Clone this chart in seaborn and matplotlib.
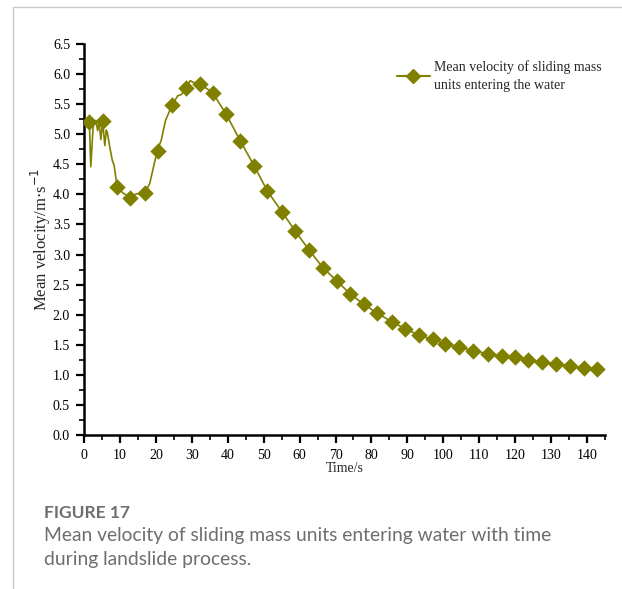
import numpy as np
import pandas as pd
import matplotlib
matplotlib.use("Agg")
import matplotlib.pyplot as plt
from matplotlib.lines import Line2D
from matplotlib.ticker import MultipleLocator
import seaborn as sns

# ---------------------------------------------------------------------------
# DATA
# ---------------------------------------------------------------------------

# dense line trace (early oscillation part), seconds / m.s-1
line_time = [1.5, 1.9, 2.6, 3.3, 3.8, 4.2, 4.7, 5.2, 5.8, 6.2, 6.5, 7.2, 7.9,
             8.4, 9.2, 10.9, 12.9, 14.6, 16.8, 18.3, 20.4, 21.5, 22.7, 24.4,
             26.1, 27.1, 28.3, 29.6, 30.8, 32.0]
line_vel = [5.20, 4.46, 5.18, 5.23, 5.06, 5.20, 4.91, 5.21, 4.81, 5.07, 5.03,
            4.78, 4.56, 4.48, 4.13, 4.02, 3.95, 4.01, 4.01, 4.18, 4.73, 4.90,
            5.23, 5.47, 5.64, 5.66, 5.76, 5.89, 5.85, 5.84]

# marker points (every ~3.9 s)
marker_time = [1.4, 5.4, 9.1, 12.8, 16.9, 20.5, 24.4, 28.3, 32.2, 35.8, 39.6,
               43.5, 47.4, 51.0, 55.2, 58.8, 62.7, 66.5, 70.4, 74.0, 77.9,
               81.5, 85.7, 89.3, 93.2, 97.0, 100.6, 104.5, 108.4, 112.3,
               116.2, 120.0, 123.6, 127.5, 131.4, 135.3, 139.2, 142.8]
marker_vel = [5.20, 5.22, 4.13, 3.94, 4.02, 4.72, 5.48, 5.77, 5.84, 5.69, 5.33,
              4.89, 4.47, 4.06, 3.70, 3.39, 3.07, 2.78, 2.56, 2.35, 2.17,
              2.03, 1.88, 1.77, 1.66, 1.59, 1.52, 1.46, 1.40, 1.35,
              1.32, 1.29, 1.25, 1.21, 1.18, 1.14, 1.12, 1.09]

LEGEND_LABEL = "Mean velocity of sliding mass\nunits entering the water"
CAPTION_LINES = ["Mean velocity of sliding mass units entering water with time",
                 "during landslide process."]
OLIVE = "#808000"
CAPTION_GREY = "#6e6e6e"

# ---------------------------------------------------------------------------
# PLOT
# ---------------------------------------------------------------------------

sns.set_style("ticks")
plt.rcParams["font.family"] = ["Liberation Serif", "DejaVu Serif"]

fig = plt.figure(figsize=(6.22, 5.89), dpi=100)
ax = fig.add_axes([0.135, 0.2615, 0.8377, 0.6638])

# line: dense early trace, then continues through the markers
late = [(t, v) for t, v in zip(marker_time, marker_vel) if t > line_time[-1]]
df_line = pd.DataFrame({
    "time": line_time + [t for t, _ in late],
    "vel": line_vel + [v for _, v in late],
})
df_mark = pd.DataFrame({"time": marker_time, "vel": marker_vel})

sns.lineplot(data=df_line, x="time", y="vel", ax=ax, color=OLIVE,
             linewidth=1.2, sort=False, estimator=None)
sns.scatterplot(data=df_mark, x="time", y="vel", ax=ax, color=OLIVE,
                marker="D", s=70, linewidth=0, zorder=3)

ax.set_xlim(0, 145)
ax.set_ylim(0, 6.5)
ax.xaxis.set_major_locator(MultipleLocator(10))
ax.xaxis.set_minor_locator(MultipleLocator(5))
ax.yaxis.set_major_locator(MultipleLocator(0.5))
ax.yaxis.set_minor_locator(MultipleLocator(0.25))
ax.yaxis.set_major_formatter(matplotlib.ticker.FormatStrFormatter("%.1f"))

for sp in ["top", "right"]:
    ax.spines[sp].set_visible(False)
for sp in ["left", "bottom"]:
    ax.spines[sp].set_linewidth(1.8)
    ax.spines[sp].set_color("black")
ax.tick_params(which="major", direction="out", length=6, width=1.6,
               labelsize=10, colors="black", pad=4)
ax.tick_params(which="minor", direction="out", length=3.5, width=1.4)

ax.set_xlabel("Time/s", fontsize=10, labelpad=0)
ax.set_ylabel("Mean velocity/m$\\cdot$s$^{-1}$", fontsize=12, labelpad=0)

handle = Line2D([], [], color=OLIVE, marker="D", markersize=7, linewidth=1.5)
leg = ax.legend([handle], [LEGEND_LABEL], loc="upper right", frameon=False,
                fontsize=10, handlelength=2.4, handletextpad=0.3,
                bbox_to_anchor=(1.018, 0.99))
for t in leg.get_texts():
    t.set_linespacing(1.45)

# page decoration and caption
fig.add_artist(Line2D([13 / 622, 13 / 622], [0, 1 - 7 / 589],
                      color="#c8c8c8", linewidth=1, transform=fig.transFigure))
fig.add_artist(Line2D([13 / 622, 1], [1 - 7 / 589, 1 - 7 / 589],
                      color="#c8c8c8", linewidth=1, transform=fig.transFigure))
fig.text(44 / 622, 1 - 513 / 589, "FIGURE 17", fontsize=12.5,
         fontweight="bold", color=CAPTION_GREY, family="Lato", va="center")
for i, line in enumerate(CAPTION_LINES):
    fig.text(44 / 622, 1 - (536 + 24 * i) / 589, line, fontsize=13.9,
             color=CAPTION_GREY, family="Lato", va="center")

fig.savefig("out.png", dpi=100)
